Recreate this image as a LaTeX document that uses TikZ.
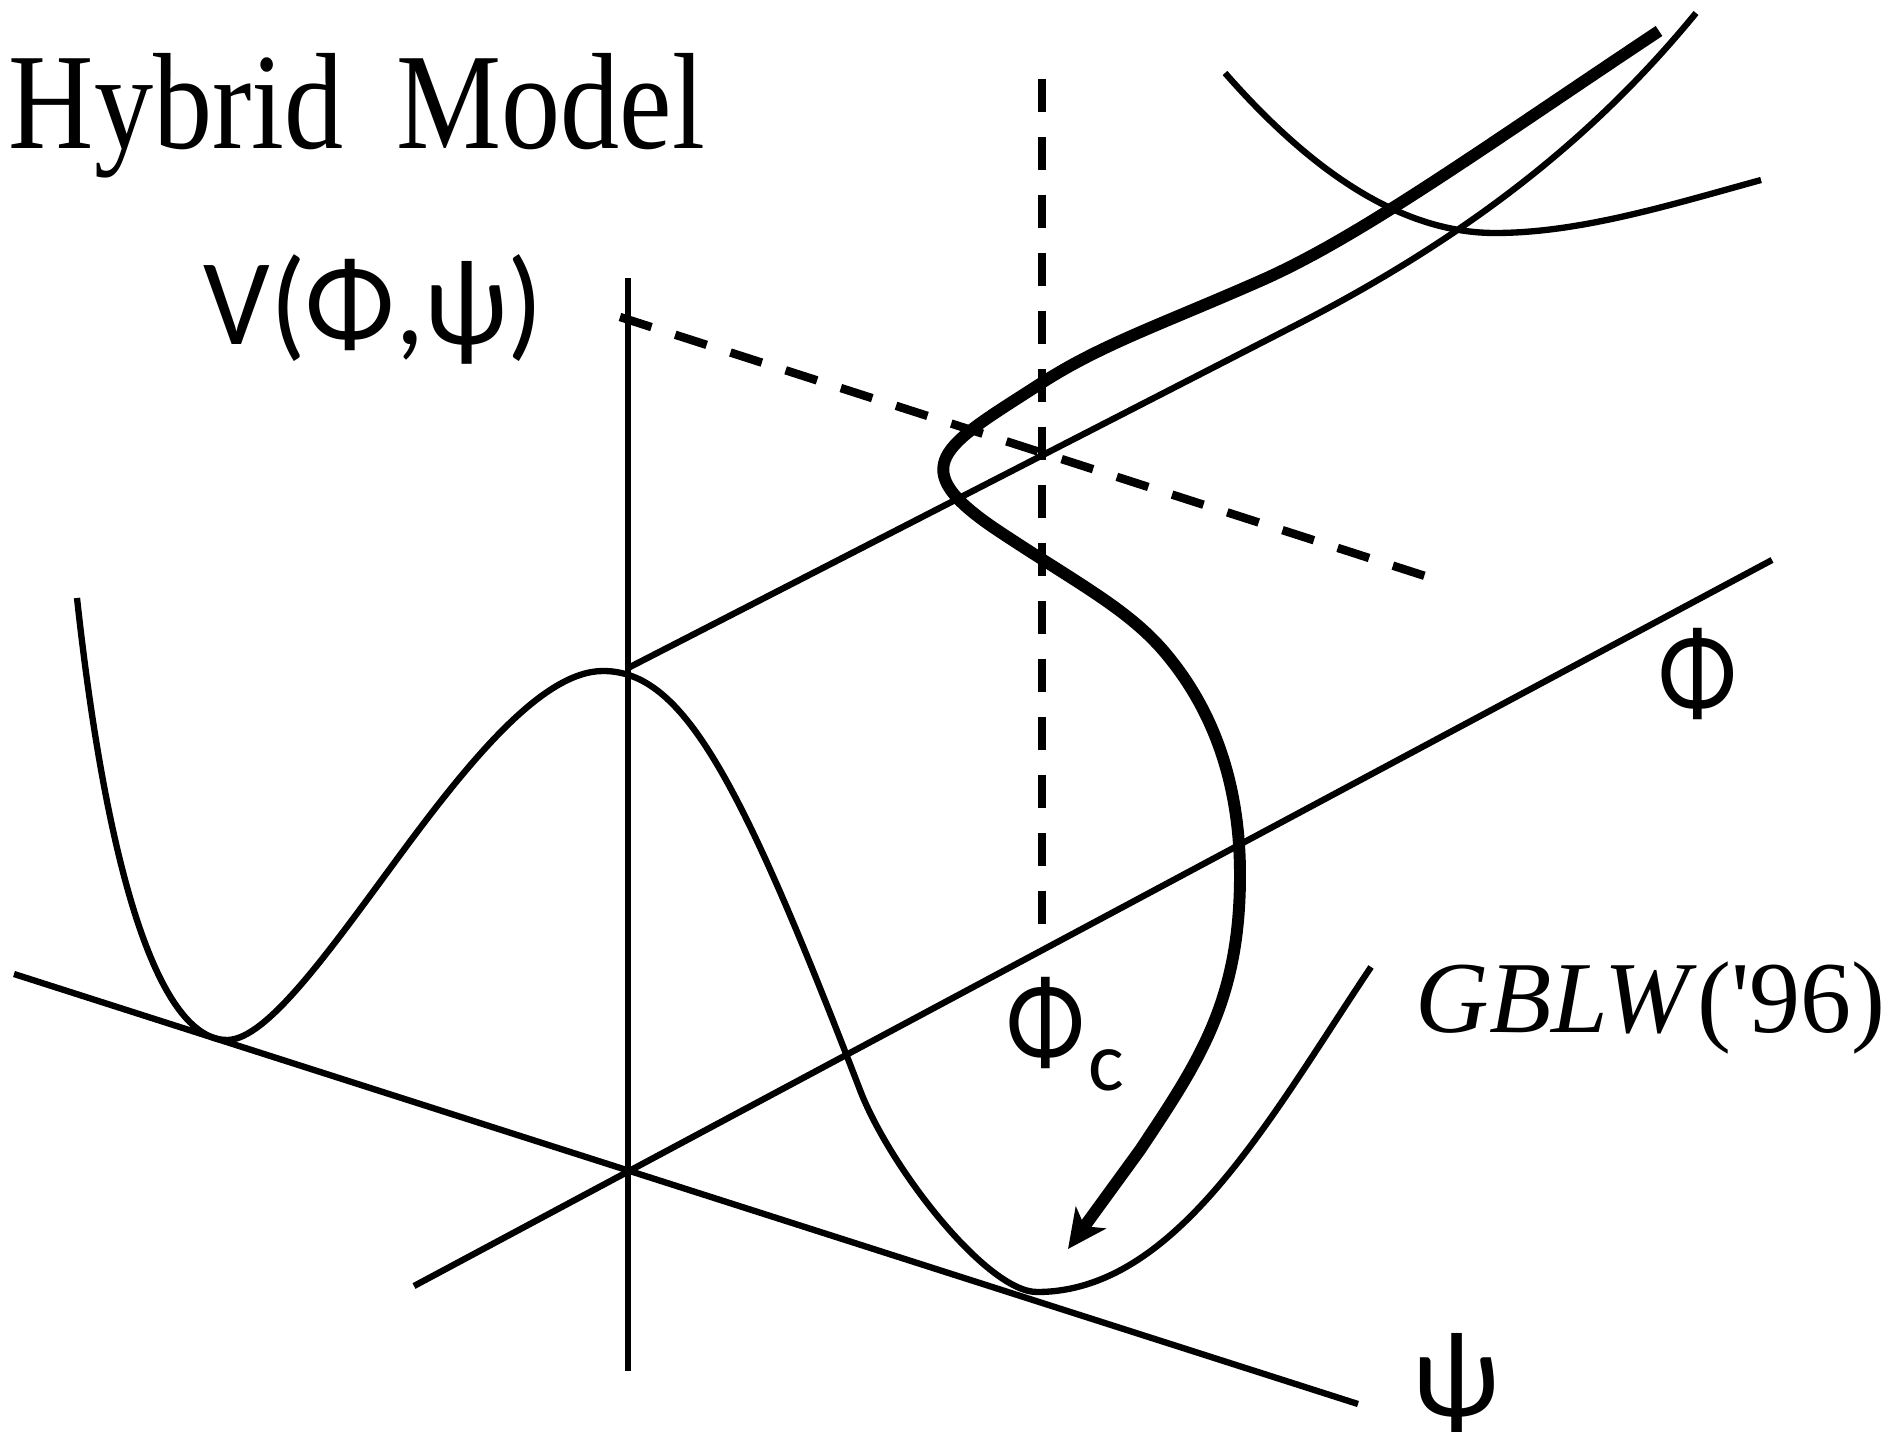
\documentclass[tikz,border=0pt]{standalone}
\usepackage{graphicx}
\usepackage{fontspec}
\setmainfont{Liberation Serif}
\newfontfamily\greekfont{Carlito}
\usetikzlibrary{arrows.meta}

\begin{document}
\begin{tikzpicture}[
  thinline/.style={line width=1.8pt},
  thickline/.style={line width=3.4pt, line join=round},
  dashline/.style={line width=2.4pt, dash pattern=on 9.4pt off 7.1pt},
  biglabel/.style={font=\greekfont\fontsize{35}{35}\selectfont, inner sep=0pt}
]
  \useasboundingbox (0,0) rectangle (18.94,14.31);

  % Axes
  \coordinate (O) at (6.28,2.61);
  \coordinate (vtop) at (6.28,11.53);
  \coordinate (vbot) at (6.28,0.60);
  \coordinate (psistart) at (0.14,4.57);
  \coordinate (psiend) at (13.58,0.27);
  \coordinate (phistart) at (4.14,1.45);
  \coordinate (phiend) at (17.72,8.71);
  \draw[thinline] (vbot) -- (vtop);
  \draw[thinline] (psistart) -- (psiend);
  \draw[thinline] (phistart) -- (phiend);

  % Critical value: dashed guides
  \coordinate (ctop) at (10.42,13.52);
  \coordinate (cbot) at (10.42,5.01);
  \coordinate (dstart) at (6.20,11.14);
  \coordinate (dend) at (14.25,8.55);
  \draw[dashline] (ctop) -- (cbot);
  \draw[dashline] (dstart) -- (dend);

  % Valley line at psi = 0, bending up at large Phi
  \coordinate (vstart) at (6.28,7.63);
  \coordinate (vbend) at (13.00,11.08);
  \coordinate (vend) at (16.96,14.18);
  \draw[thinline] (vstart) -- (vbend)
    .. controls (14.80,12.01) and (16.00,13.01) .. (vend);

  % Double well in psi direction (Phi = 0)
  \draw[thinline] (0.77,8.33)
    .. controls (1.10,5.31) and (1.65,3.91) .. (2.27,3.91)
    .. controls (2.67,3.91) and (3.30,4.81) .. (4.00,5.76)
    .. controls (4.70,6.71) and (5.43,7.60) .. (6.03,7.60)
    .. controls (6.83,7.60) and (7.40,6.53) .. (8.60,3.41)
    .. controls (8.90,2.63) and (9.87,1.39) .. (10.37,1.39)
    .. controls (11.77,1.39) and (12.71,3.15) .. (13.71,4.64);

  % Single well at large Phi
  \draw[thinline] (12.25,13.58)
    .. controls (13.10,12.61) and (14.00,11.98) .. (14.95,11.98)
    .. controls (15.80,11.98) and (16.70,12.26) .. (17.61,12.51);

  % Trajectory of the fields
  \draw[thickline,-{Stealth[length=11pt,width=10.5pt,inset=3pt]}] (16.59,14.00)
    .. controls (14.80,12.81) and (13.60,11.94) .. (12.60,11.50)
    .. controls (11.60,11.06) and (11.00,10.86) .. (10.40,10.47)
    .. controls (9.44,9.85) and (9.00,9.65) .. (10.00,8.99)
    .. controls (10.80,8.46) and (11.30,8.21) .. (11.67,7.76)
    .. controls (12.05,7.30) and (12.40,6.61) .. (12.40,5.56)
    .. controls (12.40,4.31) and (12.00,3.71) .. (11.40,2.81)
    -- (10.68,1.82);

  % Labels
  \node[anchor=base west, inner sep=0pt, font=\fontsize{39}{39}\selectfont]
    (title) at (0.08,12.82) {\scalebox{0.862}[1]{Hybrid\hspace{0.45em}Model}};
  \node[biglabel, anchor=base west] (vlabel) at (2.03,10.86)
    {\scalebox{0.955}[1]{V(Φ,ψ)}};
  \node[biglabel, anchor=base] (philabel) at (16.98,7.18)
    {\scalebox{0.84}[1]{Φ}};
  \node[biglabel, anchor=base west] (phiclabel) at (10.06,3.69)
    {\scalebox{0.84}[1]{Φ}\hspace{1pt}\raisebox{-8pt}{\fontsize{24}{24}\selectfont c}};
  \node[biglabel, anchor=base] (psilabel) at (14.56,0.15) {ψ};
  \node[anchor=base west, inner sep=0pt, font=\fontsize{29}{29}\selectfont]
    (gblw) at (14.15,3.99) {\textit{GBLW}(\textquotesingle 96)};

\end{tikzpicture}
\end{document}
